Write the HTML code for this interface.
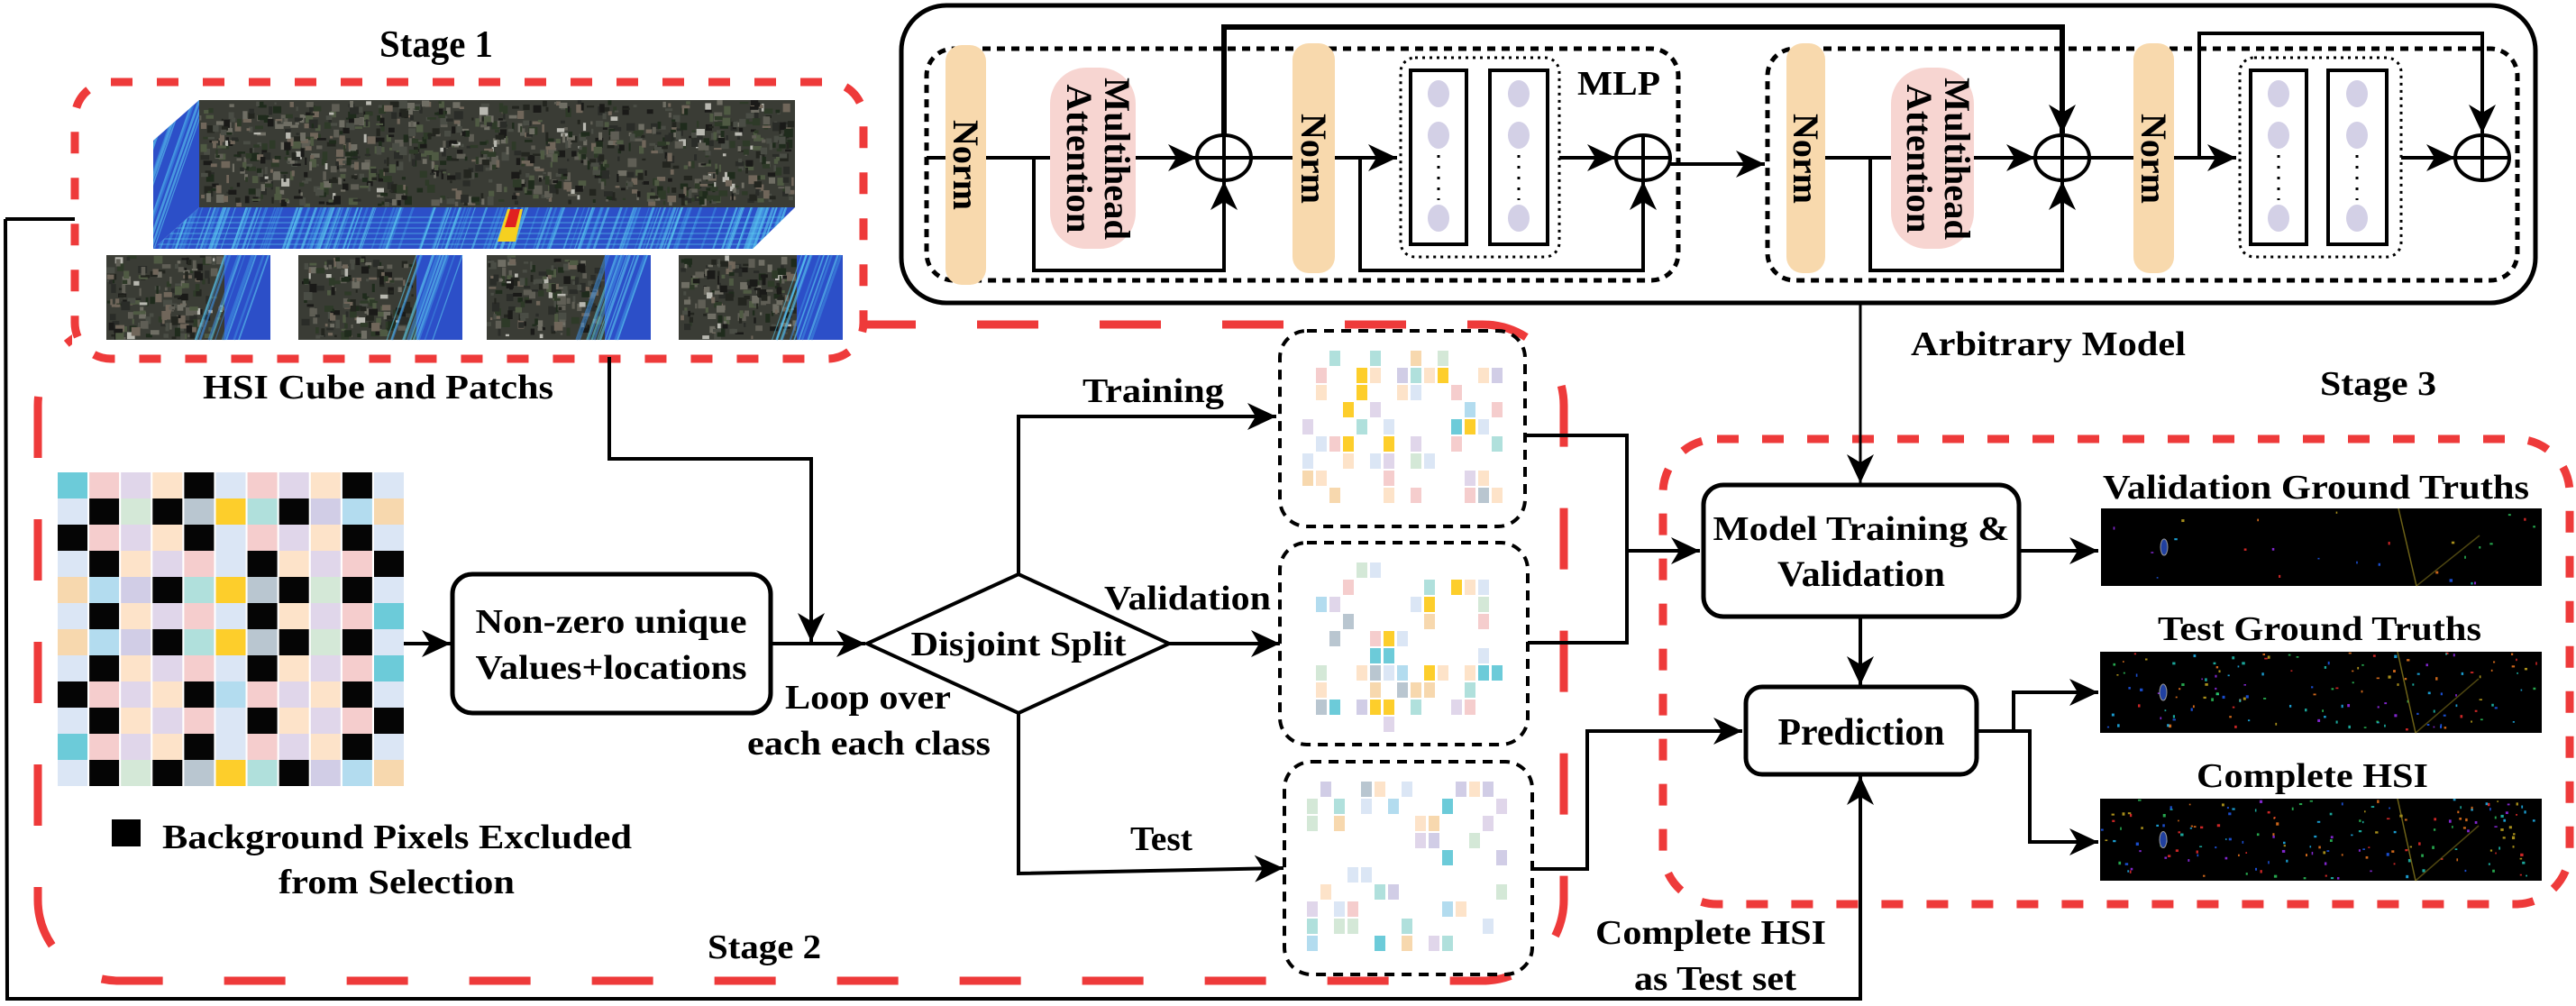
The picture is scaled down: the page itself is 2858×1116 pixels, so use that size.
<!DOCTYPE html>
<html><head><meta charset="utf-8"><style>
html,body{margin:0;padding:0;background:#fff;}
svg{display:block;}
text{font-family:"Liberation Serif","DejaVu Serif",serif;font-weight:bold;fill:#000;}
</style></head><body>
<svg id="s" xmlns="http://www.w3.org/2000/svg" width="2858" height="1116" viewBox="0 0 2858 1116">
<defs>
<marker id="a" markerUnits="userSpaceOnUse" markerWidth="34" markerHeight="30" refX="32" refY="15" orient="auto" viewBox="0 0 34 30">
<path d="M0,0 L32,15 L0,30 L9,15 z" fill="#000"/></marker>
<clipPath id="bandclip"><polygon points="221,230 882,230 835,276 170,276"/></clipPath>
<clipPath id="sideclip"><polygon points="170,156 221,111 221,230 170,276"/></clipPath>
</defs>

<rect x="42" y="360" width="1693" height="728" rx="90" ry="90" fill="none" stroke="#ee3a3a" stroke-width="9" stroke-dasharray="68 68"/>
<rect x="80" y="88" width="882" height="312" fill="#fff"/>
<rect x="83" y="91" width="875" height="307" rx="40" ry="40" fill="none" stroke="#ee3a3a" stroke-width="9" stroke-dasharray="24 27"/>
<rect x="1845" y="487" width="1006" height="516" rx="60" ry="60" fill="none" stroke="#ee3a3a" stroke-width="9" stroke-dasharray="24 26"/>

<g id="imgs"></g>
<g id="grid"></g>
<g id="scat"></g>

<text x="484" y="63" font-size="42" text-anchor="middle" textLength="126" lengthAdjust="spacingAndGlyphs">Stage 1</text>
<text x="225" y="442" font-size="38" textLength="389" lengthAdjust="spacingAndGlyphs">HSI Cube and Patchs</text>
<rect x="124" y="909" width="32" height="30" fill="#000"/>
<text x="180" y="941" font-size="38" textLength="521" lengthAdjust="spacingAndGlyphs">Background Pixels Excluded</text>
<text x="440" y="991" font-size="38" text-anchor="middle" textLength="262" lengthAdjust="spacingAndGlyphs">from Selection</text>
<text x="785" y="1063" font-size="38" textLength="126" lengthAdjust="spacingAndGlyphs">Stage 2</text>
<text x="678" y="702" font-size="38" text-anchor="middle" textLength="301" lengthAdjust="spacingAndGlyphs">Non-zero unique</text>
<text x="678" y="753" font-size="38" text-anchor="middle" textLength="301" lengthAdjust="spacingAndGlyphs">Values+locations</text>
<text x="1130" y="727" font-size="38" text-anchor="middle" textLength="239" lengthAdjust="spacingAndGlyphs">Disjoint Split</text>
<text x="871" y="786" font-size="38" textLength="184" lengthAdjust="spacingAndGlyphs">Loop over</text>
<text x="829" y="837" font-size="38" textLength="270" lengthAdjust="spacingAndGlyphs">each each class</text>
<text x="1201" y="446" font-size="38" textLength="157" lengthAdjust="spacingAndGlyphs">Training</text>
<text x="1225" y="676" font-size="38" textLength="185" lengthAdjust="spacingAndGlyphs">Validation</text>
<text x="1254" y="943" font-size="38" textLength="69" lengthAdjust="spacingAndGlyphs">Test</text>
<text x="2120" y="394" font-size="38" textLength="305" lengthAdjust="spacingAndGlyphs">Arbitrary Model</text>
<text x="2574" y="438" font-size="38" textLength="129" lengthAdjust="spacingAndGlyphs">Stage 3</text>
<text x="2065" y="599" font-size="38" text-anchor="middle" textLength="329" lengthAdjust="spacingAndGlyphs">Model Training &amp;</text>
<text x="2065" y="650" font-size="40" text-anchor="middle" textLength="186" lengthAdjust="spacingAndGlyphs">Validation</text>
<text x="2065" y="826" font-size="42" text-anchor="middle" textLength="185" lengthAdjust="spacingAndGlyphs">Prediction</text>
<text x="2333" y="553" font-size="38" textLength="473" lengthAdjust="spacingAndGlyphs">Validation Ground Truths</text>
<text x="2394" y="710" font-size="38" textLength="359" lengthAdjust="spacingAndGlyphs">Test Ground Truths</text>
<text x="2437" y="873" font-size="38" textLength="257" lengthAdjust="spacingAndGlyphs">Complete HSI</text>
<text x="1770" y="1047" font-size="38" textLength="256" lengthAdjust="spacingAndGlyphs">Complete HSI</text>
<text x="1813" y="1098" font-size="38" textLength="180" lengthAdjust="spacingAndGlyphs">as Test set</text>

<rect x="502" y="637" width="353" height="154" rx="22" fill="none" stroke="#000" stroke-width="5"/>
<polygon points="962,714 1130,637 1297,714 1130,791" fill="none" stroke="#000" stroke-width="4"/>
<g fill="none" stroke="#000" stroke-width="4">
<line x1="448" y1="714" x2="500" y2="714" marker-end="url(#a)"/>
<line x1="855" y1="714" x2="960" y2="714" marker-end="url(#a)"/>
<polyline points="676,396 676,509 900,509 900,712" marker-end="url(#a)"/>
<polyline points="1130,637 1130,462 1416,462" marker-end="url(#a)"/>
<line x1="1297" y1="714" x2="1420" y2="714" marker-end="url(#a)"/>
<polyline points="1130,791 1130,969 1424,963" marker-end="url(#a)"/>
<polyline points="6,243 83,243"/>
<polyline points="6,243 8,1108 2064,1108 2064,861" marker-end="url(#a)"/>
<polyline points="1690,483 1805,483 1805,713 1695,713"/>
<line x1="1805" y1="611" x2="1886" y2="611" marker-end="url(#a)"/>
<polyline points="1700,964 1761,964 1761,811 1933,811" marker-end="url(#a)"/>
<line x1="2064" y1="335" x2="2064" y2="536" stroke-width="3" marker-end="url(#a)"/>
<line x1="2064" y1="684" x2="2064" y2="760" marker-end="url(#a)"/>
<line x1="2240" y1="611" x2="2328" y2="611" marker-end="url(#a)"/>
<polyline points="2193,811 2234,811 2234,768 2328,768" marker-end="url(#a)"/>
<polyline points="2234,811 2252,811 2252,934 2328,934" marker-end="url(#a)"/>
</g>
<rect x="1890" y="538" width="350" height="146" rx="22" fill="none" stroke="#000" stroke-width="5"/>
<rect x="1937" y="762" width="256" height="97" rx="18" fill="none" stroke="#000" stroke-width="5"/>

<g fill="none" stroke="#000" stroke-width="4" stroke-dasharray="11 8">
<rect x="1420" y="367" width="272" height="217" rx="30"/>
<rect x="1420" y="602" width="275" height="224" rx="30"/>
<rect x="1425" y="845" width="275" height="236" rx="30"/>
</g>

<rect x="1000" y="6" width="1813" height="330" rx="50" fill="none" stroke="#000" stroke-width="5"/>
<g fill="none" stroke="#000" stroke-width="5" stroke-dasharray="9 7">
<rect x="1028" y="54" width="834" height="257" rx="30"/>
<rect x="1961" y="54" width="832" height="257" rx="30"/>
</g>
<g fill="#f8d9ad">
<rect x="1049" y="50" width="45" height="266" rx="18"/>
<rect x="1434" y="48" width="47" height="255" rx="18"/>
<rect x="1982" y="48" width="43" height="255" rx="18"/>
<rect x="2367" y="48" width="45" height="255" rx="18"/>
</g>
<g fill="#f7d5d1">
<rect x="1165" y="75" width="95" height="201" rx="40"/>
<rect x="2098" y="75" width="92" height="201" rx="40"/>
</g>
<g font-size="40">
<text transform="translate(1058,183) rotate(90)" text-anchor="middle" textLength="100" lengthAdjust="spacingAndGlyphs">Norm</text>
<text transform="translate(1444,176) rotate(90)" text-anchor="middle" textLength="100" lengthAdjust="spacingAndGlyphs">Norm</text>
<text transform="translate(1990,176) rotate(90)" text-anchor="middle" textLength="100" lengthAdjust="spacingAndGlyphs">Norm</text>
<text transform="translate(2376,176) rotate(90)" text-anchor="middle" textLength="100" lengthAdjust="spacingAndGlyphs">Norm</text>
<text transform="translate(1226,176) rotate(90)" text-anchor="middle" textLength="180" lengthAdjust="spacingAndGlyphs">Multihead</text>
<text transform="translate(1184,176) rotate(90)" text-anchor="middle" textLength="165" lengthAdjust="spacingAndGlyphs">Attention</text>
<text transform="translate(2158,176) rotate(90)" text-anchor="middle" textLength="180" lengthAdjust="spacingAndGlyphs">Multihead</text>
<text transform="translate(2116,176) rotate(90)" text-anchor="middle" textLength="165" lengthAdjust="spacingAndGlyphs">Attention</text>
</g>
<text x="1750" y="105" font-size="38" textLength="92" lengthAdjust="spacingAndGlyphs">MLP</text>
<g fill="none" stroke="#000" stroke-width="4">
<line x1="1028" y1="175" x2="1049" y2="175"/>
<line x1="1094" y1="175" x2="1165" y2="175"/>
<polyline points="1147,175 1147,300 1358,300 1358,201" marker-end="url(#a)"/>
<line x1="1260" y1="175" x2="1328" y2="175" marker-end="url(#a)"/>
<polyline points="1358,150 1358,30 2288,30 2288,148" stroke-width="6" marker-end="url(#a)"/>
<line x1="1388" y1="175" x2="1434" y2="175"/>
<line x1="1481" y1="175" x2="1550" y2="175" marker-end="url(#a)"/>
<polyline points="1509,175 1509,300 1823,300 1823,201" marker-end="url(#a)"/>
<line x1="1730" y1="175" x2="1793" y2="175" marker-end="url(#a)"/>
<line x1="1853" y1="182" x2="1958" y2="182" marker-end="url(#a)"/>
<line x1="2025" y1="175" x2="2098" y2="175"/>
<polyline points="2075,175 2075,300 2288,300 2288,201" marker-end="url(#a)"/>
<line x1="2190" y1="175" x2="2258" y2="175" marker-end="url(#a)"/>
<line x1="2318" y1="175" x2="2367" y2="175"/>
<line x1="2412" y1="175" x2="2481" y2="175" marker-end="url(#a)"/>
<polyline points="2440,175 2440,37 2754,37 2754,148" marker-end="url(#a)"/>
<line x1="2664" y1="175" x2="2724" y2="175" marker-end="url(#a)"/>
<g id="plus"></g>
<rect x="1554" y="64" width="176" height="221" rx="16" stroke-dasharray="3 5" stroke-width="3"/>
<rect x="2485" y="64" width="179" height="221" rx="16" stroke-dasharray="3 5" stroke-width="3"/>
<rect x="1565" y="78" width="62" height="193"/>
<rect x="1653" y="78" width="64" height="193"/>
<rect x="2497" y="78" width="62" height="193"/>
<rect x="2583" y="78" width="65" height="193"/>
</g>
<g id="mlpc"></g>
</svg>
<script>
(function(){
var NS='http://www.w3.org/2000/svg';
var seed=12345;function R(){seed=(seed*16807)%2147483647;return (seed-1)/2147483646;}
function el(p,t,a){var e=document.createElementNS(NS,t);for(var k in a)e.setAttribute(k,a[k]);p.appendChild(e);return e;}
var imgs=document.getElementById('imgs'),grid=document.getElementById('grid'),scat=document.getElementById('scat');
function sat(x,y,w,h){el(imgs,'rect',{x:x,y:y,width:w,height:h,fill:'#3a3c35'});
 var cols=['#4a4d45','#23251f','#5f5e55','#6f6e64','#1f2b1c','#4f5a43','#2a2c28','#70665a','#2e3a28','#1a1a18'];
 var n=Math.floor(w*h/70);for(var i=0;i<n;i++){var sw=2+R()*8,sh=2+R()*8;el(imgs,'rect',{x:x+R()*(w-sw),y:y+R()*(h-sh),width:sw,height:sh,fill:(R()<0.04?'#b8b8b0':cols[Math.floor(R()*cols.length)])});}}
function band(x,y,w,h,clip){var g=el(imgs,'g',clip?{'clip-path':'url(#'+clip+')'}:{});
 el(g,'rect',{x:x,y:y,width:w,height:h,fill:'#2c4fc8'});
 for(var i=0;i<w/4;i++){var xx=x+R()*w;el(g,'line',{x1:xx,y1:y,x2:xx-(h*0.35),y2:y+h,stroke:R()<0.5?'#3f8fe0':'#5fd3f2','stroke-width':1+R()*2,opacity:0.55});}
 return g;}
sat(221,111,661,119);
band(170,111,60,170,'sideclip');
var bg=band(165,228,720,50,'bandclip');
for(var i=0;i<6;i++){el(bg,'rect',{x:165,y:240+i*6,width:720,height:2,fill:'#5fd3f2',opacity:0.3});}
el(bg,'polygon',{points:'563,232 580,232 572,268 552,268',fill:'#f5d020'});
el(bg,'polygon',{points:'566,232 577,232 572,252 560,252',fill:'#e02020'});
[118,331,540,753].forEach(function(px){sat(px,283,131,94);band(px+131,283,51,94);});
var C={c:'#6ccbd9',p:'#f5cdcd',l:'#e0d6ea',o:'#fde3c9',k:'#050505',b:'#dbe6f5',g:'#d4e8d7',s:'#b9c6d0',y:'#fdce2b',t:'#b0e0dc',v:'#d1cde6',u:'#b3dcef',r:'#f7d8ae'};
var rows=['cplokbplokb','bkgksytkvur','kplokbplokb','bkolpbkolpk','ruvktyskgkb','bkolpbkolpc','ruvktyskgkb','bkolpbkolpc','kplokuplokb','bkolpbkolpk','cplokbplokb','bkgksytkvur'];
for(var r=0;r<12;r++)for(var c=0;c<11;c++){el(grid,'rect',{x:64+c*35.1,y:524+r*29,width:33,height:29,fill:C[rows[r][c]]});}
var sc=['#6ccbd9','#f5cdcd','#e0d6ea','#fde3c9','#dbe6f5','#d4e8d7','#b9c6d0','#fdce2b','#b0e0dc','#d1cde6','#b3dcef','#f7d8ae','#f5cdcd','#e0d6ea','#fde3c9','#dbe6f5'];
[[1420,367,272,217],[1420,602,275,224],[1425,845,275,236]].forEach(function(b){
 for(var yy=b[1]+22;yy<b[1]+b[3]-30;yy+=19)for(var xx=b[0]+25;xx<b[0]+b[2]-30;xx+=15){if(R()<0.32)el(scat,'rect',{x:xx,y:yy,width:12,height:17,fill:sc[Math.floor(R()*sc.length)]});}});
var gc=['#2060ff','#20c0ff','#ff3030','#d0b020','#a030ff','#30d060','#ff8020','#20d0c0'];
[[2331,564,489,86,25],[2330,723,490,90,140],[2330,886,490,91,170]].forEach(function(b){
 el(imgs,'rect',{x:b[0],y:b[1],width:b[2],height:b[3],fill:'#000'});
 for(var i=0;i<b[4];i++){el(imgs,'rect',{x:b[0]+R()*(b[2]-3),y:b[1]+R()*(b[3]-3),width:1.5+R()*2,height:1.5+R()*2,fill:gc[Math.floor(R()*gc.length)],opacity:0.8});}
 el(imgs,'line',{x1:b[0]+330,y1:b[1],x2:b[0]+350,y2:b[1]+b[3],stroke:'#9a8a20','stroke-width':1.5,opacity:0.7});
 el(imgs,'line',{x1:b[0]+350,y1:b[1]+b[3],x2:b[0]+420,y2:b[1]+30,stroke:'#9a8a20','stroke-width':1.5,opacity:0.5});
 el(imgs,'ellipse',{cx:b[0]+70,cy:b[1]+b[3]*0.5,rx:4,ry:9,fill:'#2040a0',stroke:'#999','stroke-width':1});
});
var pl=document.getElementById('plus');
[1358,1823,2288,2754].forEach(function(cx){
 el(pl,'ellipse',{cx:cx,cy:175,rx:30,ry:25,fill:'#fff',stroke:'#000','stroke-width':4});
 el(pl,'line',{x1:cx-30,y1:175,x2:cx+30,y2:175,stroke:'#000','stroke-width':4});
 el(pl,'line',{x1:cx,y1:150,x2:cx,y2:200,stroke:'#000','stroke-width':4});});
var mc=document.getElementById('mlpc');
[1596,1685,2528,2615].forEach(function(cx){
 [104,150,242].forEach(function(cy){el(mc,'ellipse',{cx:cx,cy:cy,rx:12,ry:15,fill:'#d3d0e6'});});
 el(mc,'line',{x1:cx,y1:172,x2:cx,y2:222,stroke:'#000','stroke-width':3,'stroke-dasharray':'3 9'});});
})();
</script>
</body></html>
